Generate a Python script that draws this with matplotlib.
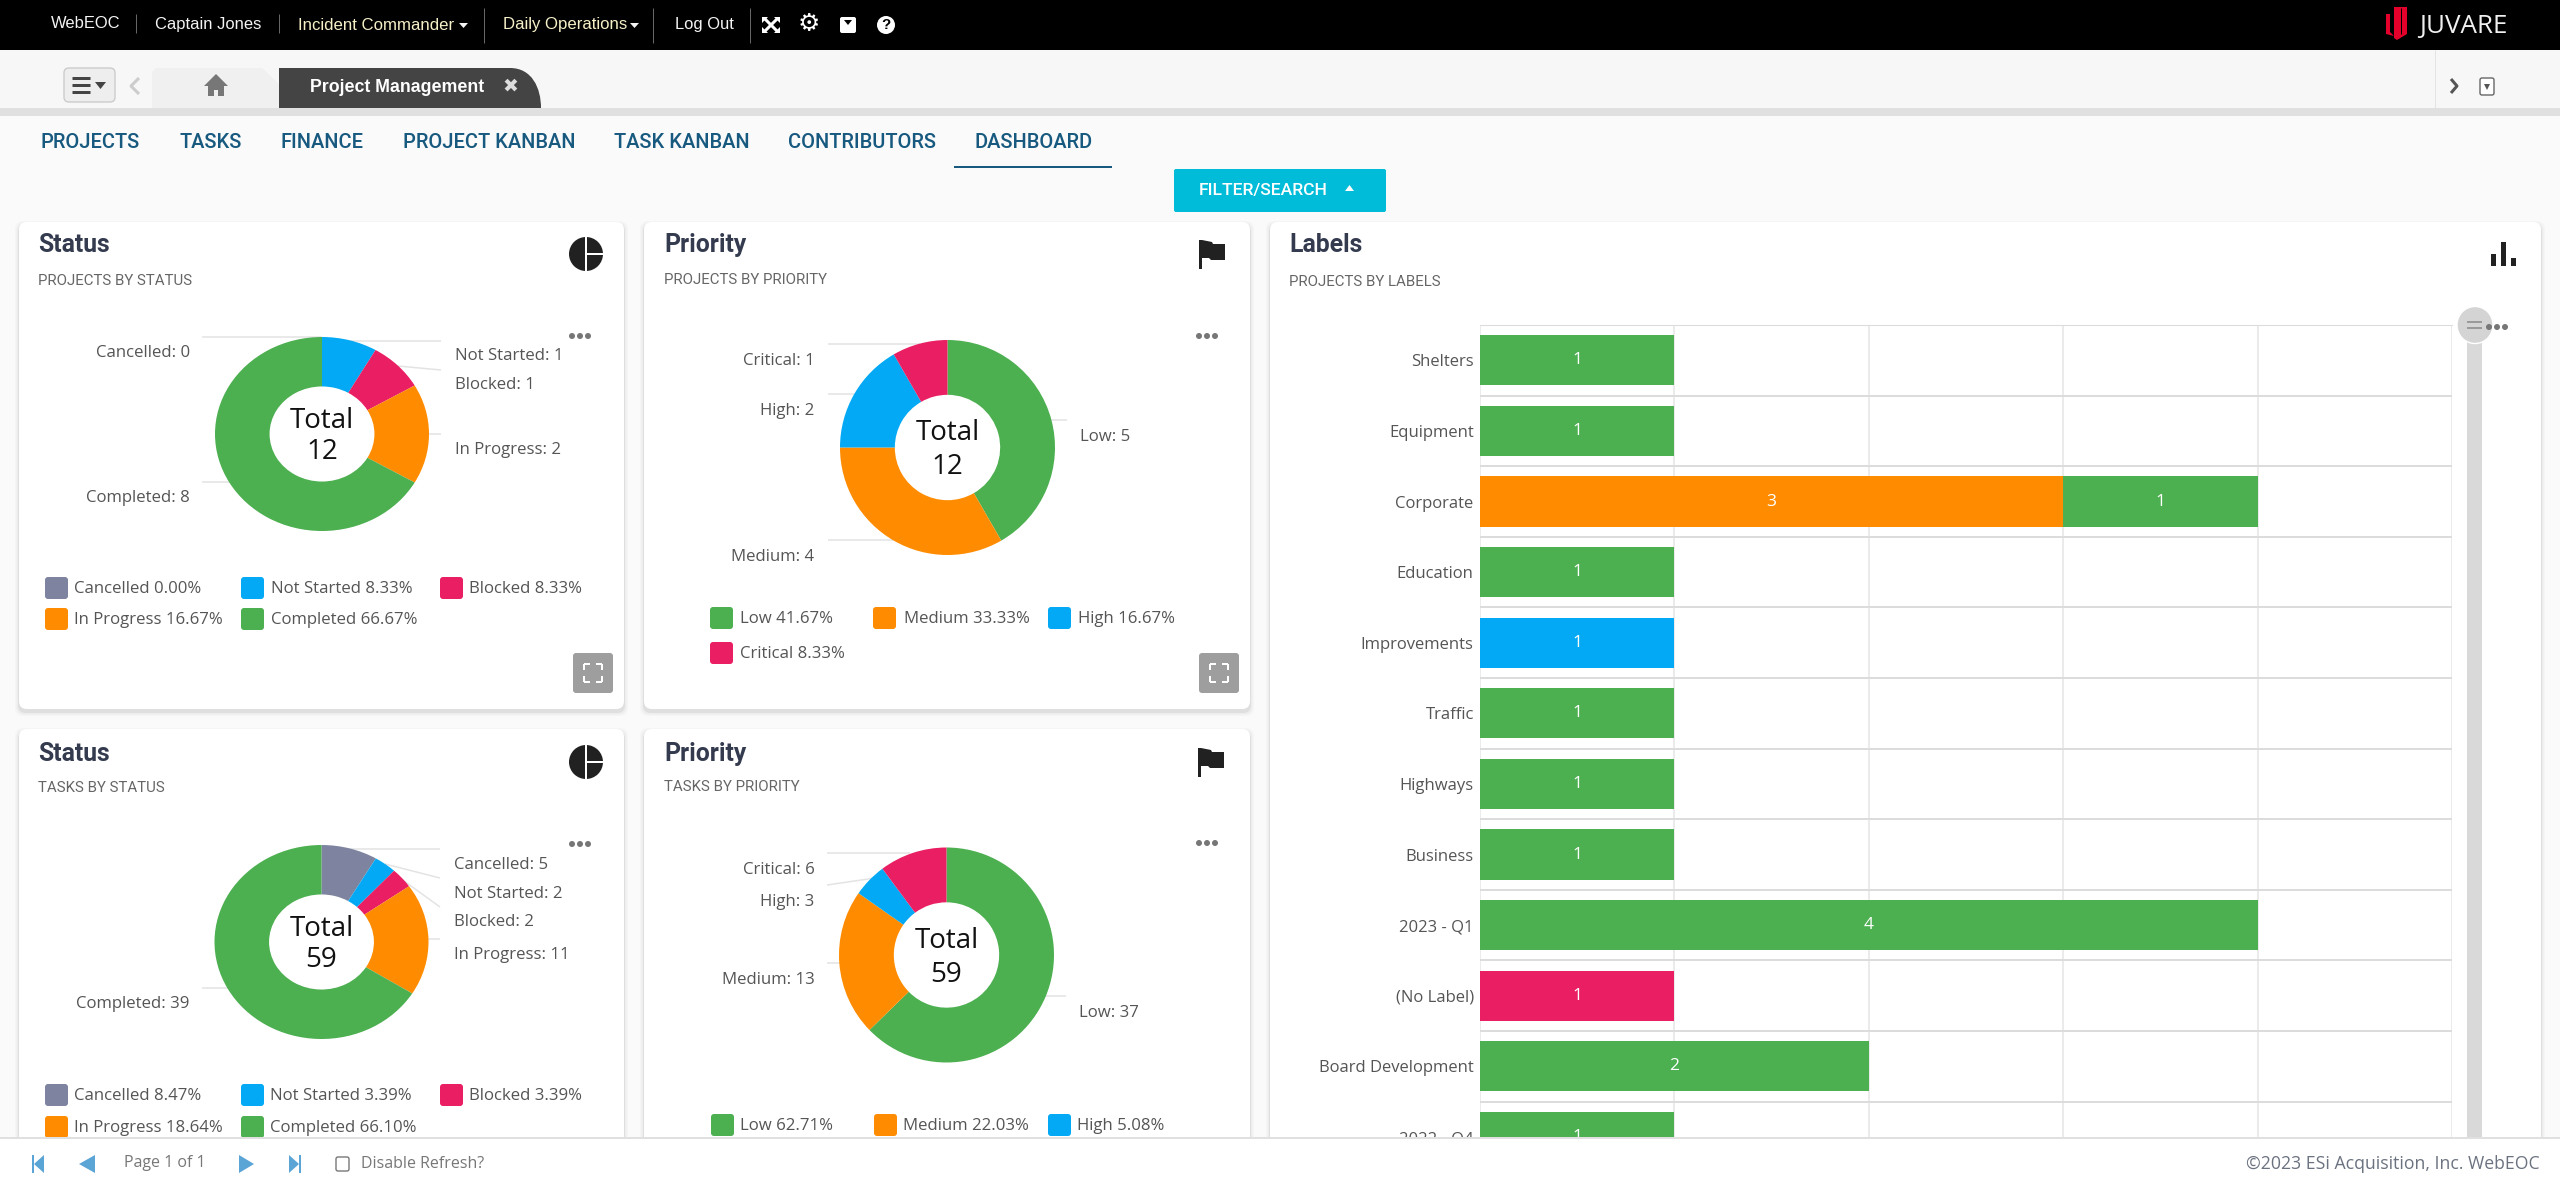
import matplotlib
matplotlib.use('Agg')
import matplotlib.pyplot as plt
import numpy as np
from matplotlib.patches import Rectangle, FancyBboxPatch, Circle, Ellipse, Polygon, PathPatch
from matplotlib.path import Path

W, H = 2560, 1190

# chart data
status_names = ['Cancelled', 'Not Started', 'Blocked', 'In Progress', 'Completed']
status_projects = [0, 1, 1, 2, 8]
status_tasks = [5, 2, 2, 11, 39]
priority_names = ['Low', 'Medium', 'High', 'Critical']
priority_projects = [5, 4, 2, 1]
priority_tasks = [37, 13, 3, 6]

label_names = ['Shelters', 'Equipment', 'Corporate', 'Education', 'Improvements', 'Traffic',
               'Highways', 'Business', '2023 - Q1', '(No Label)', 'Board Development', '2022 - Q4']
label_critical = [0, 0, 0, 0, 0, 0, 0, 0, 0, 1, 0, 0]
label_high = [0, 0, 0, 0, 1, 0, 0, 0, 0, 0, 0, 0]
label_medium = [0, 0, 3, 0, 0, 0, 0, 0, 0, 0, 0, 0]
label_low = [1, 1, 1, 1, 0, 1, 1, 1, 4, 0, 2, 1]

nav_names = ['PROJECTS', 'TASKS', 'FINANCE', 'PROJECT KANBAN', 'TASK KANBAN', 'CONTRIBUTORS', 'DASHBOARD']
nav_x = [41, 179, 280, 403, 614, 788, 975]

# colours
GREEN = '#4caf50'
ORANGE = '#ff8c00'
BLUE = '#03a9f4'
PINK = '#e91e63'
SLATE = '#7e84a0'
status_colors = [SLATE, BLUE, PINK, ORANGE, GREEN]
priority_colors = [GREEN, ORANGE, BLUE, PINK]
TITLE = '#343b4f'
LABEL = '#555555'
NAVY = '#17597f'
LINE = '#e3e3e3'
ICON = '#212121'

fig = plt.figure(figsize=(W / 100, H / 100), dpi=100, facecolor='#fafafa')


def px_axes(x0, y0, x1, y1, z):
    return fig.add_axes([x0 / W, 1 - y1 / H, (x1 - x0) / W, (y1 - y0) / H], zorder=z)


def new_canvas(x0, y0, x1, y1, z):
    a = px_axes(x0, y0, x1, y1, z)
    a.set_xlim(x0, x1)
    a.set_ylim(y1, y0)
    a.axis('off')
    return a


ui = new_canvas(0, 0, W, H, 0)
foot = new_canvas(0, 1137, W, H, 5)
foot.patch.set_visible(True)


def txt(a, x, y, s, px, color=LABEL, ha='left', family='Open Sans', weight='normal'):
    a.text(x, y + 1, s, fontsize=px * 0.72, color=color, ha=ha, va='center', family=family, weight=weight, zorder=6)


def rect(a, x0, y0, x1, y1, color, z=1):
    a.add_patch(Rectangle((x0, y0), x1 - x0, y1 - y0, fc=color, ec='none', zorder=z))


def rrect(a, x0, y0, x1, y1, r, color, ec='none', z=1, alpha=None):
    a.add_patch(FancyBboxPatch((x0 + r, y0 + r), x1 - x0 - 2 * r, y1 - y0 - 2 * r,
                               boxstyle=f'round,pad={r},rounding_size={r}',
                               fc=color, ec=ec, lw=1, zorder=z, alpha=alpha))


def seg(a, xs, ys, color=LINE, lw=1.5, z=1):
    a.plot(xs, ys, color=color, lw=lw * 0.72, zorder=z, solid_capstyle='butt')


def dots(a, x, y):
    for dx in (-8, 0, 8):
        a.add_patch(Circle((x + dx, y), 3, fc='#777777', ec='none', zorder=5))


def card(x0, y0, x1, y1):
    for grow, al in ((4, 0.02), (2.5, 0.03), (1, 0.06)):
        rrect(ui, x0 - grow, y0 - grow + 3, x1 + grow, y1 + grow + 3, 8, '#000000', z=1, alpha=al)
    rrect(ui, x0, y0, x1, y1, 8, '#ffffff', z=2)


def pie_icon(x, y):
    ui.add_patch(Circle((x, y), 17, fc=ICON, ec='none', zorder=3))
    seg(ui, [x, x], [y - 18, y + 18], '#ffffff', 2, 4)
    seg(ui, [x, x + 18], [y, y], '#ffffff', 2, 4)


def flag_icon(x, y):
    rect(ui, x, y, x + 3, y + 29, ICON, 3)
    ui.add_patch(Polygon([(x + 3, y), (x + 13, y + 2), (x + 14, y + 4), (x + 26, y + 4), (x + 26, y + 20),
                          (x + 12, y + 20), (x + 10, y + 18), (x + 3, y + 18)], fc=ICON, ec='none', zorder=3))


def full_btn(x, y):
    rrect(ui, x, y, x + 40, y + 40, 3, '#9e9e9e', z=3)
    for sx, sy in ((-1, -1), (1, -1), (-1, 1), (1, 1)):
        cx, cy = x + 20 + sx * 9, y + 20 + sy * 9
        seg(ui, [cx, cx], [cy, cy - sy * 6], '#ffffff', 2, 4)
        seg(ui, [cx, cx - sx * 6], [cy, cy], '#ffffff', 2, 4)


def donut(cx, cy, rx, ry, values, colors, up, down):
    ax = px_axes(cx - rx, cy - ry, cx + rx, cy + ry, 1)
    ax.pie(values, colors=colors, startangle=90, counterclock=False, radius=1,
           wedgeprops=dict(width=0.51, linewidth=0))
    ax.set_aspect('auto')
    ax.set_xlim(-1, 1)
    ax.set_ylim(-1, 1)
    ax.patch.set_visible(False)
    ax.text(0, up / ry, 'Total', ha='center', va='center', fontsize=20, color='#111111', family='Open Sans')
    ax.text(0, -down / ry, str(sum(values)), ha='center', va='center', fontsize=20, color='#111111', family='Open Sans')
    return ax


def legend(names, values, colors, slots):
    total = sum(values)
    for name, v, c, (sx, tx, y) in zip(names, values, colors, slots):
        rrect(ui, sx, y - 11, sx + 23, y + 11, 3, c, z=3)
        txt(ui, tx, y, f'{name} {v / total * 100:.2f}%', 16.7)


def callouts(names, values, items):
    for name, v, (tx, ty, ha, lx, ly) in zip(names, values, items):
        seg(ui, lx, ly, LINE, 1.5, 3)
        txt(ui, tx, ty, f'{name}: {v}', 16.7, ha=ha)


# page chrome
rect(ui, 0, 0, W, 50, '#000000')
rect(ui, 0, 50, W, 108, '#f7f7f7')
rect(ui, 0, 108, W, 116, '#e0e0e0')
for x, y0, y1 in ((136, 14, 33), (279, 14, 33), (484, 8, 43), (653, 8, 43), (750, 8, 43)):
    seg(ui, [x, x], [y0, y1], '#666666', 1)
txt(ui, 51, 23, 'WebEOC', 16.5, '#f4f4f4', family='Liberation Sans')
txt(ui, 155, 23, 'Captain Jones', 16.5, '#f4f4f4', family='Liberation Sans')
txt(ui, 298, 24, 'Incident Commander', 16.8, '#f6f0c8', family='Liberation Sans')
txt(ui, 503, 24, 'Daily Operations', 16.8, '#f6f0c8', family='Liberation Sans')
txt(ui, 675, 24, 'Log Out', 16.5, '#f4f4f4', family='Liberation Sans')
for x in (459, 630):
    ui.add_patch(Polygon([(x, 23), (x + 9, 23), (x + 4.5, 28)], fc='#f4f4f4', ec='none', zorder=3))
# toolbar icons
for sx, sy in ((-1, -1), (1, -1), (-1, 1), (1, 1)):
    seg(ui, [771, 771 + sx * 7], [25, 25 + sy * 7], '#ffffff', 3, 3)
    ui.add_patch(Polygon([(771 + sx * 9, 25 + sy * 8), (771 + sx * 3, 25 + sy * 8), (771 + sx * 9, 25 + sy * 2)],
                         fc='#ffffff', ec='none', zorder=3))
txt(ui, 809, 23, '\u2699', 25, '#ffffff', ha='center', family='DejaVu Sans')
rrect(ui, 840, 17, 856, 33, 2, '#ffffff', z=3)
ui.add_patch(Polygon([(844, 20), (852, 20), (848, 25)], fc='#000000', ec='none', zorder=4))
ui.add_patch(Circle((886, 25), 9, fc='#ffffff', ec='none', zorder=3))
txt(ui, 886, 24, '?', 15, '#000000', ha='center', family='Liberation Sans', weight='bold')

# juvare logo
ui.add_patch(Polygon([(2394, 7), (2407, 7), (2407, 34), (2397, 40), (2394, 38)], fc='#e4002b', ec='none', zorder=3))
ui.add_patch(Polygon([(2386, 14), (2390, 14), (2390, 32), (2394, 36), (2386, 34)], fc='#e4002b', ec='none', zorder=3))
seg(ui, [2400.5, 2400.5], [8, 34], '#000000', 1, 4)
txt(ui, 2419, 25, 'JUVARE', 26, '#f0f0f0', family='Open Sans')

# tab strip
rrect(ui, 64, 68, 115, 102, 5, '#eeeeee', ec='#cccccc', z=2)
for y in (78, 85, 92):
    seg(ui, [72, 90], [y, y], '#444444', 3, 3)
ui.add_patch(Polygon([(95, 82), (106, 82), (100.5, 89)], fc='#444444', ec='none', zorder=3))
seg(ui, [139, 131, 139], [78, 86, 94], '#cccccc', 3, 3)
ui.add_patch(Polygon([(152, 108), (152, 72), (156, 68), (262, 68), (279, 84), (279, 108)], fc='#f0f0f0', ec='none', zorder=2))
ui.add_patch(Polygon([(216, 74), (228, 86), (224, 86), (224, 96), (218, 96), (218, 90), (214, 90), (214, 96),
                      (208, 96), (208, 86), (204, 86)], fc='#777777', ec='none', zorder=3))
tab_path = Path([(279, 108), (279, 68), (510, 68), (532, 68), (541, 88), (541, 108), (279, 108)],
                [Path.MOVETO, Path.LINETO, Path.LINETO, Path.CURVE4, Path.CURVE4, Path.CURVE4, Path.CLOSEPOLY])
ui.add_patch(PathPatch(tab_path, fc='#444444', ec='none', zorder=2))
txt(ui, 310, 87, 'Project Management', 17.7, '#ffffff', family='Liberation Sans', weight='bold')
txt(ui, 510, 85, '\u2716', 19, '#dddddd', ha='center', family='DejaVu Sans')
seg(ui, [2435, 2435], [50, 108], '#e3e3e3', 1)
seg(ui, [2451, 2457, 2451], [79, 86, 93], '#555555', 3, 3)
rrect(ui, 2480, 78, 2494, 95, 2, '#ffffff', ec='#666666', z=3)
ui.add_patch(Polygon([(2484, 84), (2490, 84), (2487, 90)], fc='#555555', ec='none', zorder=4))

# nav row
for name, x in zip(nav_names, nav_x):
    txt(ui, x, 142, name, 20, NAVY, family='Roboto', weight='medium')
rect(ui, 954, 166, 1112, 168, NAVY)
rrect(ui, 1174, 169, 1386, 212, 2, '#00bcd9', z=2)
txt(ui, 1199, 190, 'FILTER/SEARCH', 17.5, '#ffffff', family='Roboto', weight='medium')
ui.add_patch(Polygon([(1345, 191), (1354, 191), (1349.5, 185)], fc='#ffffff', ec='none', zorder=3))

# cards
card(19, 222, 624, 709)
card(644, 222, 1250, 709)
card(19, 729, 624, 1180)
card(644, 729, 1250, 1180)
card(1270, 222, 2541, 1180)

headers = [(38, 244, 280, 'Status', 'PROJECTS BY STATUS'),
           (664, 244, 279, 'Priority', 'PROJECTS BY PRIORITY'),
           (38, 753, 787, 'Status', 'TASKS BY STATUS'),
           (664, 753, 786, 'Priority', 'TASKS BY PRIORITY'),
           (1289, 244, 281, 'Labels', 'PROJECTS BY LABELS')]
for x, y1, y2, head, sub in headers:
    txt(ui, x, y1, head, 24.8, TITLE, family='Roboto', weight='bold')
    txt(ui, x, y2, sub, 15, '#666666', family='Roboto')

pie_icon(586, 254)
pie_icon(586, 762)
flag_icon(1199, 240)
flag_icon(1198, 748)
for x, top, h in ((2491, 254, 12), (2501, 242, 24), (2511, 258, 8)):
    rect(ui, x, top, x + 5, top + h, ICON, 3)
full_btn(573, 653)
full_btn(1199, 653)
for x, y in ((580, 336), (1207, 336), (580, 844), (1207, 843), (2497, 327)):
    dots(ui, x, y)

# donuts
donut(322, 434, 107, 97, status_projects, status_colors, 13, 18)
donut(947.5, 447.5, 107.5, 107.5, priority_projects, priority_colors, 14.5, 20)
donut(321.5, 942, 107, 97, status_tasks, status_colors, 13, 18)
donut(946.5, 955, 107.5, 107.5, priority_tasks, priority_colors, 14.5, 20)

callouts(status_names, status_projects, [
    (190, 352, 'right', [202, 322], [337, 337]),
    (455, 355, 'left', [340, 441], [341, 341]),
    (455, 384, 'left', [398, 441], [366, 370]),
    (455, 449, 'left', [425, 441], [434, 434]),
    (190, 497, 'right', [202, 240], [482, 482])])
callouts(priority_names, priority_projects, [
    (1080, 436, 'left', [1045, 1067], [419.5, 419.5]),
    (814.5, 556, 'right', [827.5, 895], [540, 540]),
    (814.5, 410, 'right', [827.5, 860], [394, 394]),
    (814.5, 360, 'right', [827.5, 920], [344, 344])])
callouts(status_names, status_tasks, [
    (453.5, 864, 'left', [345, 440], [849, 849]),
    (453.5, 893, 'left', [385, 440], [864, 878]),
    (453.5, 921, 'left', [400, 440], [878, 907]),
    (453.5, 954, 'left', [425, 440], [939, 939]),
    (189, 1003, 'right', [202, 240], [988, 988])])
callouts(priority_names, priority_tasks, [
    (1079, 1012, 'left', [1040, 1066], [996, 996]),
    (814.5, 979, 'right', [827, 845], [963, 963]),
    (814.5, 901, 'right', [827, 875], [885, 878]),
    (814.5, 869, 'right', [827, 910], [853, 853])])

legend(status_names, status_projects, status_colors,
       [(45, 74, 588), (241, 271, 588), (440, 469, 588), (45, 74, 619), (241, 271, 619)])
legend(priority_names, priority_projects, priority_colors,
       [(710, 740.5, 618), (873, 903.5, 618), (1048, 1078, 618), (710, 740.5, 653)])
legend(status_names, status_tasks, status_colors,
       [(45, 74, 1095), (241, 270, 1095), (440, 469, 1095), (45, 74, 1127), (241, 270, 1127)])
legend(priority_names, priority_tasks, priority_colors,
       [(711, 740, 1125), (874, 903, 1125), (1048, 1077, 1125), (711, 740, 1160)])

# labels stacked bar
bar_ax = px_axes(1480, 325, 2452, 1137, 1)
y_pos = np.arange(len(label_names)) + 0.5
left = np.zeros(len(label_names))
for vals, col in ((label_critical, PINK), (label_high, BLUE), (label_medium, ORANGE), (label_low, GREEN)):
    vals = np.array(vals)
    bar_ax.barh(y_pos, vals, left=left, height=0.71, color=col, zorder=3)
    for yy, l, v in zip(y_pos, left, vals):
        if v > 0:
            bar_ax.text(l + v / 2, yy, str(v), ha='center', va='center', color='white',
                        fontsize=12.5, family='Open Sans', zorder=4, clip_on=False)
    left = left + vals
bar_ax.set_xlim(0, 5)
bar_ax.set_ylim(11.5, 0)
bar_ax.set_xticks(range(6))
bar_ax.set_yticks(np.arange(0, 12))
bar_ax.set_yticklabels([])
bar_ax.set_yticks(y_pos, minor=True)
bar_ax.set_yticklabels(label_names, minor=True, fontsize=12, color=LABEL, family='Open Sans')
bar_ax.tick_params(which='both', length=0, pad=4.5)
bar_ax.tick_params(axis='x', labelbottom=False)
bar_ax.grid(axis='x', color='#e6e6e6', lw=1.1, zorder=1)
bar_ax.grid(axis='y', which='major', color='#dcdcdc', lw=1.4, zorder=1)
for s in bar_ax.spines.values():
    s.set_visible(False)
bar_ax.spines['top'].set_visible(True)
bar_ax.spines['top'].set_color('#dcdcdc')
bar_ax.set_axisbelow(True)

# slider next to the bars
rect(ui, 2467, 335, 2482, 1137, '#d9d9d9', 3)
ui.add_patch(Ellipse((2475, 325), 36, 37, fc='#d4d4d4', ec='#ffffff', lw=1, zorder=4))
seg(ui, [2467, 2482], [322, 322], '#888888', 1.5, 5)
seg(ui, [2467, 2482], [328, 328], '#888888', 1.5, 5)

# footer
rect(foot, 0, 1139, W, H, '#ffffff')
rect(foot, 0, 1137, W, 1139, '#e0e0e0')
BTN = '#5ba4d6'
rect(foot, 32, 1155, 34, 1173, BTN, 3)
foot.add_patch(Polygon([(44, 1155), (44, 1173), (34, 1164)], fc=BTN, ec='none', zorder=3))
foot.add_patch(Polygon([(95, 1155), (95, 1173), (79, 1164)], fc=BTN, ec='none', zorder=3))
foot.add_patch(Polygon([(239, 1155), (239, 1173), (254, 1164)], fc=BTN, ec='none', zorder=3))
foot.add_patch(Polygon([(289, 1155), (289, 1173), (299, 1164)], fc=BTN, ec='none', zorder=3))
rect(foot, 299, 1155, 301, 1173, BTN, 3)
rrect(foot, 336, 1157, 349, 1171, 2, '#ffffff', ec='#777777', z=3)
txt(foot, 124, 1162, 'Page 1 of 1', 16, '#777777')
txt(foot, 361, 1163, 'Disable Refresh?', 16, '#777777')
txt(foot, 2540, 1163, '\u00a92023 ESi Acquisition, Inc. WebEOC', 17.6, '#6b7280', ha='right')

fig.savefig('out.png', dpi=100, facecolor=fig.get_facecolor())
